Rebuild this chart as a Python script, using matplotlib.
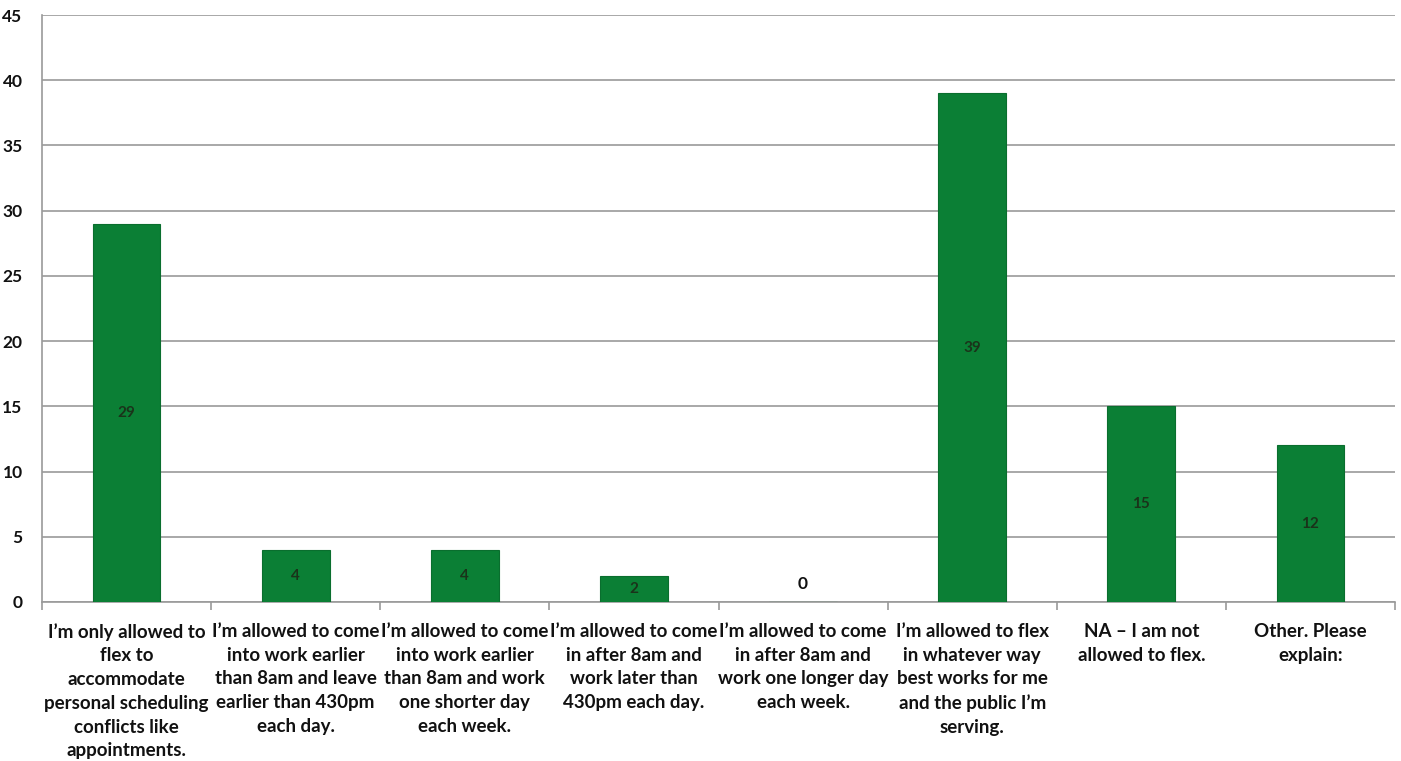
import matplotlib
matplotlib.use("Agg")
import matplotlib.pyplot as plt
import numpy as np

categories = [
    "I\u2019m only allowed to\nflex to\naccommodate\npersonal scheduling\nconflicts like\nappointments.",
    "I\u2019m allowed to come\ninto work earlier\nthan 8am and leave\nearlier than 430pm\neach day.",
    "I\u2019m allowed to come\ninto work earlier\nthan 8am and work\none shorter day\neach week.",
    "I\u2019m allowed to come\nin after 8am and\nwork later than\n430pm each day.",
    "I\u2019m allowed to come\nin after 8am and\nwork one longer day\neach week.",
    "I\u2019m allowed to flex\nin whatever way\nbest works for me\nand the public I\u2019m\nserving.",
    "NA \u2013 I am not\nallowed to flex.",
    "Other. Please\nexplain:",
]
values = [29, 4, 4, 2, 0, 39, 15, 12]
y_ticks = [0, 5, 10, 15, 20, 25, 30, 35, 40, 45]

plt.rcParams['font.family'] = ['Lato', 'DejaVu Sans']

fig = plt.figure(figsize=(14.01, 7.61), dpi=100)
ax = fig.add_axes([42 / 1401, 1 - 602 / 761, (1395 - 42) / 1401, (602 - 15) / 761])

x = np.arange(len(categories))
ax.bar(x, values, width=0.4, color="#0b7f35", edgecolor="#0a6e2e", linewidth=0.8, zorder=3)

for xi, v in zip(x, values):
    if v > 0:
        ax.text(xi, v / 2, str(v), ha="center", va="center", fontsize=11,
                fontweight="bold", color="#1a331a", zorder=4)
    else:
        ax.text(xi, 1.4, str(v), ha="center", va="center", fontsize=12.5,
                fontweight="bold", color="#111111", zorder=4)

ax.set_xlim(-0.5, len(categories) - 0.5)
ax.set_ylim(0, 45)
ax.set_yticks(y_ticks)
ax.set_yticklabels([str(t) for t in y_ticks], fontsize=12.5, fontweight="bold", color="#111111")
ax.grid(axis="y", color="#9a9a9a", linewidth=1.2, zorder=0)
ax.set_axisbelow(True)

# category labels centred under each bar, boundary tick marks between groups
ax.set_xticks(x)
ax.set_xticklabels(categories, fontsize=13.5, fontweight="bold", color="#111111", linespacing=1.48)
ax.tick_params(axis="x", length=0, pad=15)
ax.set_xticks(np.arange(-0.5, len(categories), 1.0), minor=True)
ax.tick_params(axis="x", which="minor", length=6, color="#9a9a9a", width=1.2)
ax.tick_params(axis="y", length=0, pad=14)

for side in ["top", "right"]:
    ax.spines[side].set_visible(False)
ax.spines["left"].set_color("#9a9a9a")
ax.spines["left"].set_linewidth(1.2)
ax.spines["bottom"].set_color("#9a9a9a")
ax.spines["bottom"].set_linewidth(1.2)

fig.savefig("out.png", dpi=100, facecolor="white")
